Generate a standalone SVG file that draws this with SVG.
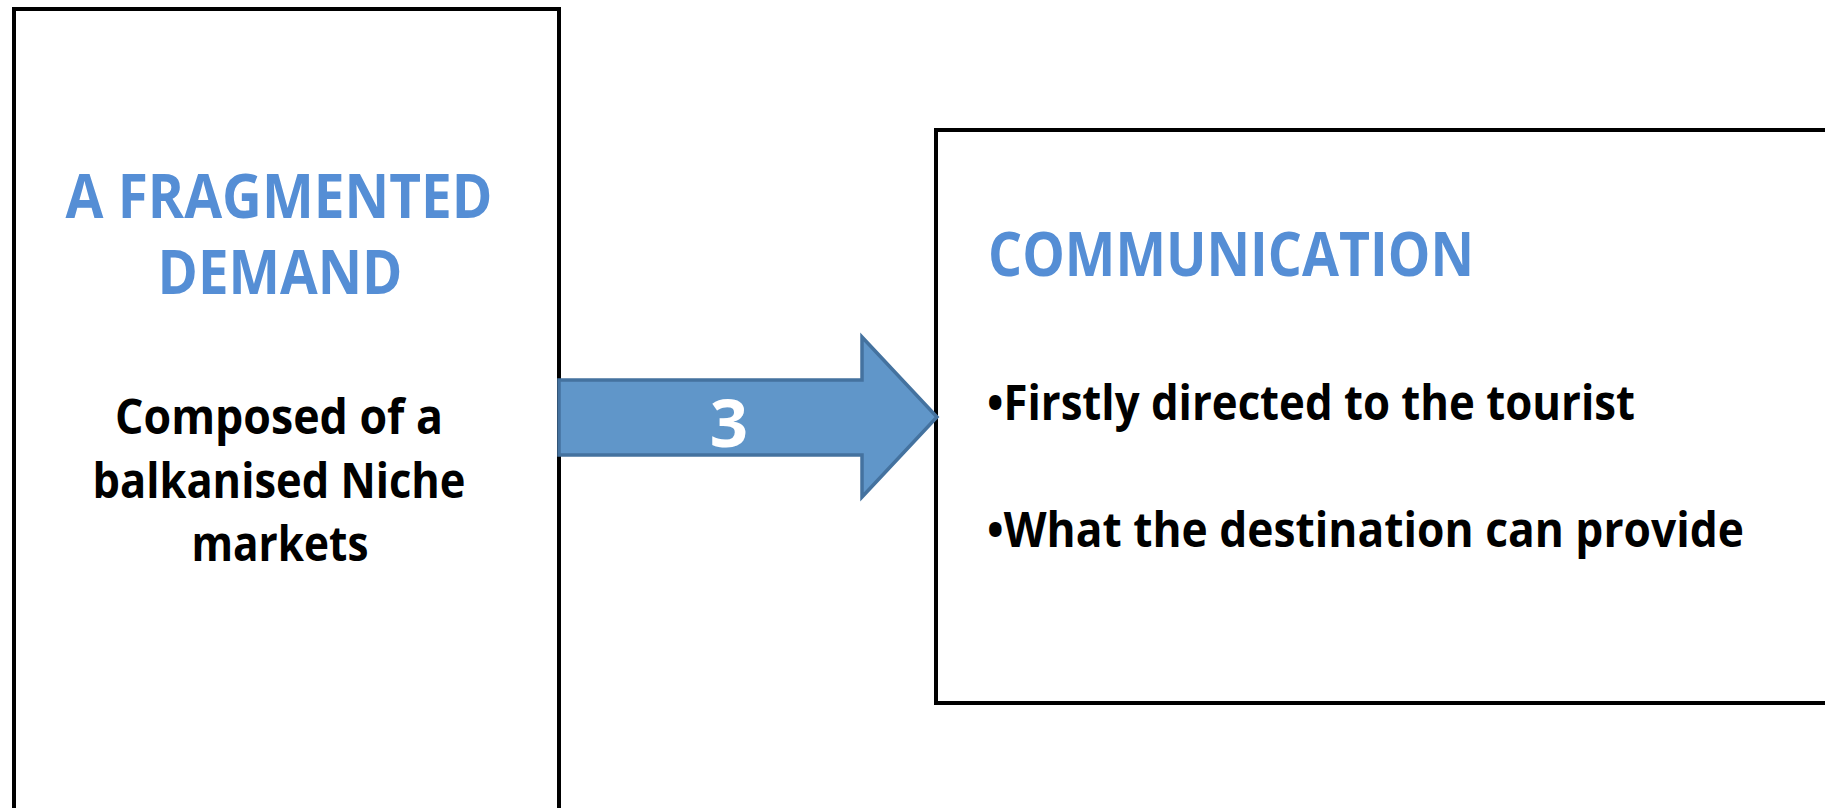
<svg xmlns="http://www.w3.org/2000/svg" width="1825" height="808" viewBox="0 0 1825 808">
  <style>
    .box { fill: #ffffff; stroke: #000000; stroke-width: 4; }
    .title { font-family: "Open Sans", "Liberation Sans", sans-serif; font-weight: 700; font-size: 60px; fill: #558ED5; }
    .body { font-family: "Open Sans", "Liberation Sans", sans-serif; font-weight: 700; font-size: 49px; fill: #000000; }
    .arrow { fill: #6096C9; stroke: #44729F; stroke-width: 3.5; stroke-linejoin: miter; }
    .arrow-label { font-family: "Open Sans", "Liberation Sans", sans-serif; font-weight: 700; font-size: 67px; fill: #ffffff; }
  </style>
  <rect width="1825" height="808" fill="#ffffff"/>

  <g id="node-demand">
    <rect class="box" x="14" y="9" width="545" height="830"/>
    <text class="title" x="279" y="218" text-anchor="middle" textLength="427" lengthAdjust="spacingAndGlyphs">A FRAGMENTED</text>
    <text class="title" x="280" y="294" text-anchor="middle" textLength="245" lengthAdjust="spacingAndGlyphs">DEMAND</text>
    <text class="body" x="279" y="434" text-anchor="middle" textLength="328" lengthAdjust="spacingAndGlyphs">Composed of a</text>
    <text class="body" x="279" y="498" text-anchor="middle" textLength="373" lengthAdjust="spacingAndGlyphs">balkanised Niche</text>
    <text class="body" x="280" y="561" text-anchor="middle" textLength="177" lengthAdjust="spacingAndGlyphs">markets</text>
  </g>

  <g id="node-communication">
    <rect class="box" x="936" y="130" width="920" height="573"/>
    <text class="title" x="988" y="276" textLength="486" lengthAdjust="spacingAndGlyphs">COMMUNICATION</text>
    <text class="body" x="987" y="420" textLength="648" lengthAdjust="spacingAndGlyphs">•Firstly directed to the tourist</text>
    <text class="body" x="987" y="547" textLength="757" lengthAdjust="spacingAndGlyphs">•What the destination can provide</text>
  </g>

  <g id="connectors">
    <path class="arrow" d="M559,380 L862,380 L862,337 L937,417 L862,497 L862,455 L559,455 Z"/>
    <text class="arrow-label" x="729" y="447" text-anchor="middle">3</text>
  </g>
</svg>
